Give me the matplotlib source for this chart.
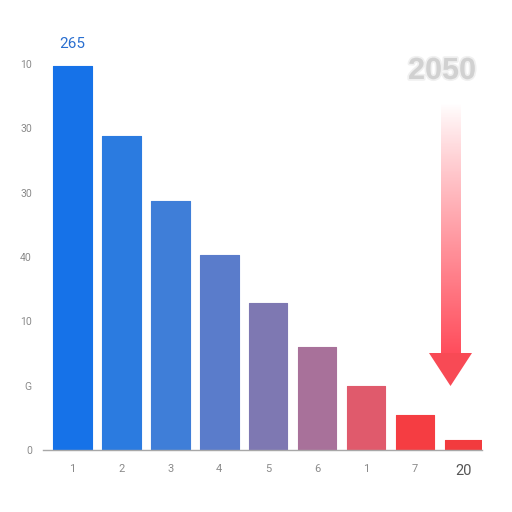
import numpy as np
import matplotlib
matplotlib.use("Agg")
import matplotlib.pyplot as plt
import matplotlib.patheffects as pe
from matplotlib.patches import Polygon

categories = ["1", "2", "3", "4", "5", "6", "1", "7", "20"]
values = [59.7, 48.8, 38.7, 30.4, 22.8, 16.0, 10.0, 5.4, 1.6]
bar_colors = ["#1672E8", "#2B7BE0", "#3F7ED8", "#5A7CCB", "#7E78B2",
              "#A8719A", "#E05A6C", "#F53D42", "#F23B3E"]
ytick_values = [0, 10, 20, 30, 40, 50, 60]
ytick_labels = ["0", "G", "10", "40", "30", "30", "10"]
top_label = "265"
big_label = "2050"

plt.rcParams['font.family'] = ['Roboto', 'DejaVu Sans']

fig = plt.figure(figsize=(5.12, 5.12), dpi=100)
fig.patch.set_facecolor("white")
ax = fig.add_axes([43/512, 1 - 450/512, (482 - 43)/512, 398.7/512])

x = np.arange(len(categories))
ax.bar(x, values, width=0.787, color=bar_colors, edgecolor=bar_colors,
       linewidth=0.8, joinstyle='round', zorder=2)
ax.set_xlim(-0.603, 8.37)
ax.set_ylim(0, 62)

ax.set_xticks(x)
ax.set_xticklabels(categories)
ax.set_yticks(ytick_values)
ax.set_yticklabels(ytick_labels)
ax.tick_params(axis='both', length=0, colors="#8a8a8a", labelsize=7.5)
ax.tick_params(axis='x', pad=10, labelsize=8)
ax.tick_params(axis='y', pad=8)
xl = ax.get_xticklabels()
xl[-1].set_fontsize(10.5)
xl[-1].set_color("#555555")
for s in ["top", "right", "left"]:
    ax.spines[s].set_visible(False)
ax.spines["bottom"].set_color("#a8a8a8")
ax.spines["bottom"].set_linewidth(1.0)

ax.text(x[0], values[0] + 2.4, top_label, ha='center', va='bottom',
        fontsize=11, color="#2A6FD0")

# overlay for decorative arrow and faded label (pixel coords)
ov = fig.add_axes([0, 0, 1, 1], zorder=5)
ov.axis('off')
ov.patch.set_alpha(0)

n = 256
t = np.linspace(0, 1, n) ** 0.9
grad = np.zeros((n, 1, 4))
grad[:, 0, 0] = 1.0
grad[:, 0, 1] = 0.30
grad[:, 0, 2] = 0.36
grad[:, 0, 3] = t
ov.imshow(grad, extent=[440.7, 460.7, 354, 103], aspect='auto',
          interpolation='bilinear', origin='upper')
ov.add_patch(Polygon([[429, 353], [472, 353], [450.5, 386]], closed=True,
                     facecolor="#F84A55", edgecolor='none'))
ov.set_xlim(0, 512)
ov.set_ylim(512, 0)

ov.text(442, 71, big_label, ha='center', va='center',
        fontsize=22, fontweight='bold', color="#cccccc", alpha=0.75,
        family=['Liberation Sans', 'DejaVu Sans'],
        path_effects=[pe.withStroke(linewidth=2.5, foreground="#e6e6e6", alpha=0.6)])

fig.savefig("out.png", dpi=100, facecolor="white")
